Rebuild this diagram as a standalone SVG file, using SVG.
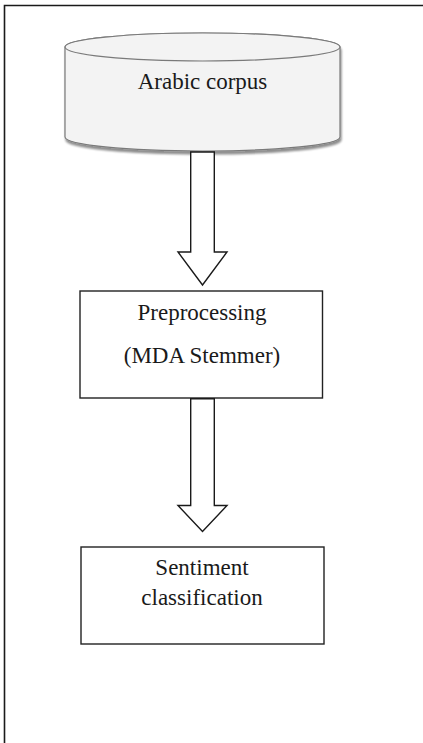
<svg xmlns="http://www.w3.org/2000/svg" width="423" height="743" viewBox="0 0 423 743">
  <defs>
    <style>
      .label { font-family: "Liberation Serif", "Times New Roman", serif; font-size: 23px; fill: #1a1a1a; text-anchor: middle; }
      .box { fill: #ffffff; stroke: #222222; stroke-width: 1.4; }
      .flow { fill: #ffffff; stroke: #1a1a1a; stroke-width: 1.4; stroke-linejoin: miter; }
      .db { fill: #f3f3f3; stroke: #7a7a7a; stroke-width: 1.2; }
    </style>
    <filter id="dropShadow" x="-10%" y="-10%" width="120%" height="130%">
      <feGaussianBlur in="SourceAlpha" stdDeviation="1.2"/>
      <feOffset dx="1" dy="2.5" result="blurred"/>
      <feComponentTransfer><feFuncA type="linear" slope="0.45"/></feComponentTransfer>
      <feMerge><feMergeNode/><feMergeNode in="SourceGraphic"/></feMerge>
    </filter>
  </defs>

  <rect width="423" height="743" fill="#ffffff"/>

  <!-- frame: top and left edges only -->
  <path d="M4.5,743 V5.5 H423" fill="none" stroke="#1a1a1a" stroke-width="1.6"/>

  <g id="corpus">
    <path class="db" filter="url(#dropShadow)" d="M65,47 V137 A137.5,14 0 0 0 340,137 V47 A137.5,14 0 0 0 65,47 Z"/>
    <ellipse class="db" cx="202.5" cy="47" rx="137.5" ry="14"/>
    <text class="label" x="202.5" y="89" font-size="24">Arabic corpus</text>
  </g>

  <g id="preprocessing">
    <rect class="box" x="80" y="291" width="242.5" height="107"/>
    <text class="label" x="202" y="320">Preprocessing</text>
    <text class="label" x="202" y="363">(MDA Stemmer)</text>
  </g>

  <g id="sentiment">
    <rect class="box" x="81" y="547" width="243" height="97"/>
    <text class="label" x="202" y="575">Sentiment</text>
    <text class="label" x="202" y="605">classification</text>
  </g>

  <g id="connectors">
    <path class="flow" d="M190.7,152 H214.3 V252 H227 L202.5,285 L178,252 H190.7 Z"/>
    <path class="flow" d="M190.7,398.7 H214.3 V505.5 H227 L202.5,531.5 L178,505.5 H190.7 Z"/>
  </g>
</svg>
